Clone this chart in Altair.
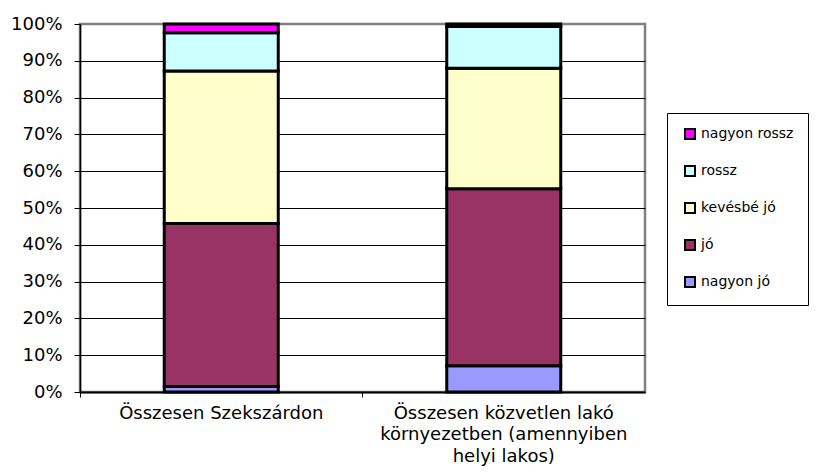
import json
import altair as alt
import pandas as pd

# ---- data -------------------------------------------------------------
categories = [
    "Összesen Szekszárdon",
    "Összesen közvetlen lakó környezetben (amennyiben helyi lakos)",
]
category_lines = [
    ["Összesen Szekszárdon"],
    ["Összesen közvetlen lakó", "környezetben (amennyiben", "helyi lakos)"],
]
series = ["nagyon jó", "jó", "kevésbé jó", "rossz", "nagyon rossz"]
colors = ["#9999FF", "#993366", "#FFFFCC", "#CCFFFF", "#FF00FF"]
values_szekszard = [1.5, 44.3, 41.4, 10.4, 2.4]
values_kozvetlen = [7.1, 48.1, 32.8, 11.3, 0.7]
y_ticks = [0.0, 0.1, 0.2, 0.3, 0.4, 0.5, 0.6, 0.7, 0.8, 0.9, 1.0]

rows = []
for cat, vals in zip(categories, [values_szekszard, values_kozvetlen]):
    for i, (s, v) in enumerate(zip(series, vals)):
        rows.append({"category": cat, "series": s, "value": v, "order": i})
df = pd.DataFrame(rows)

# multi-line x labels
label_expr = (
    f"datum.value == {json.dumps(categories[0])} ? {json.dumps(category_lines[0])} : "
    f"{json.dumps(category_lines[1])}"
)

FONT = "DejaVu Sans"

chart = (
    alt.Chart(df)
    .mark_bar(size=114, stroke="black", strokeWidth=3)
    .encode(
        x=alt.X(
            "category:N",
            sort=categories,
            scale=alt.Scale(paddingInner=0, paddingOuter=0),
            axis=alt.Axis(
                title=None,
                labelAngle=0,
                labelExpr=label_expr,
                labelFont=FONT,
                labelFontSize=18,
                labelColor="black",
                labelLineHeight=21.5,
                labelPadding=7,
                labelLimit=400,
                domainColor="black",
                domainWidth=2,
                tickColor="black",
                tickSize=5,
                bandPosition=0,
            ),
        ),
        y=alt.Y(
            "value:Q",
            stack="normalize",
            scale=alt.Scale(domain=[0, 1], nice=False),
            axis=alt.Axis(
                title=None,
                values=y_ticks,
                format=".0%",
                labelFont=FONT,
                labelFontSize=18,
                labelColor="black",
                labelPadding=12,
                domainColor="black",
                domainWidth=1.5,
                tickColor="black",
                tickSize=6,
                grid=True,
                gridColor=alt.condition(
                    "datum.value >= 1", alt.value("#808080"), alt.value("black")
                ),
                gridWidth=1,
            ),
        ),
        color=alt.Color(
            "series:N",
            scale=alt.Scale(domain=list(reversed(series)), range=list(reversed(colors))),
            legend=alt.Legend(
                title=None,
                orient="none",
                legendX=587,
                legendY=89,
                strokeColor="black",
                fillColor="white",
                padding=14,
                rowPadding=19,
                symbolType="square",
                symbolSize=100,
                symbolStrokeColor="black",
                symbolStrokeWidth=2,
                symbolOpacity=1,
                symbolOffset=2,
                labelFont=FONT,
                labelFontSize=14,
                labelColor="black",
                labelOffset=4,
            ),
        ),
        order=alt.Order("order:Q", sort="ascending"),
    )
    .properties(
        width=565,
        height=368,
        autosize=alt.AutoSizeParams(type="none"),
        padding={"left": 72, "top": 16, "right": 171, "bottom": 75},
    )
    .configure_view(stroke="#808080", strokeWidth=2.5)
)

chart.save("out.html", embed_options={"renderer": "svg", "actions": False})
